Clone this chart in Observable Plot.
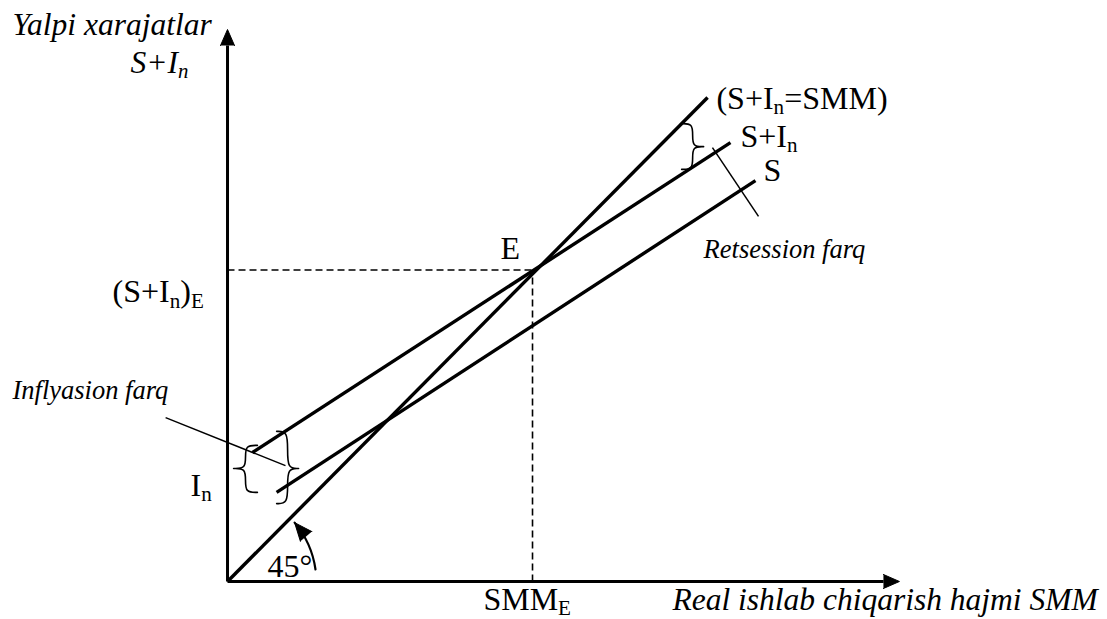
<!DOCTYPE html>
<html><head><meta charset="utf-8">
<script src="https://cdn.jsdelivr.net/npm/d3@7"></script>
<script src="https://cdn.jsdelivr.net/npm/@observablehq/plot@0.6"></script>
<style>
html,body{margin:0;padding:0;background:#fff;}
#chart svg{display:block;background:#fff;}
</style></head><body><div id="chart"></div>
<script>
// ---- Data (x: real output SMM, y: aggregate spending; equilibrium E at 100,100) ----
const lineNames = ["S+In=SMM", "S+In", "S"];
const lineX0 = [0, 8.2, 16.1];
const lineY0 = [0, 41.4, 28.6];
const lineX1 = [157.4, 164.9, 173.1];
const lineY1 = [155.4, 140.9, 128.7];

const equilibriumX = 100;
const equilibriumY = 100;

const axisLineEnd = [172.1, 215.1];   // y-axis top, x-axis right (before arrowheads)
const axisTip = [177.2, 220.3];       // arrow tips

// braces: arm (open side), spine, tip x; top, mid, bottom y
const braceArm = [9.8, 16.1, 148.9];
const braceSpine = [5.9, 19.7, 152.5];
const braceTip = [2.0, 23.3, 156.1];
const braceTop = [43.7, 48.2, 147.0];
const braceMid = [36.3, 36.3, 139.6];
const braceBottom = [28.6, 25.0, 132.3];

// callout leader lines
const calloutX1 = [-20.3, 159.0];
const calloutY1 = [52.6, 139.3];
const calloutX2 = [19.0, 174.1];
const calloutY2 = [37.2, 117.2];

// 45 degree arc
const arcStart = [28.85, 3.85];
const arcEnd = [22.0, 18.9];

// labels
const italicLabels = ["Yalpi xarajatlar", "S+I_n", "Real ishlab chiqarish hajmi SMM"];
const italicX = [-70.5, -31.8, 145.9];
const italicY = [175.3, 163.1, -9.0];

const regularLabels = ["(S+I_n=SMM)", "S+I_n", "S", "E", "(S+I_n)_E", "I_n", "45°", "SMM_E"];
const regularX = [160.3, 168.2, 175.7, 89.5, -37.7, -12.1, 13.1, 83.9];
const regularY = [151.8, 139.4, 128.7, 103.4, 89.6, 27.6, 1.3, -9.0];

const noteLabels = ["Retsession farq", "Inflyasion farq"];
const noteX = [156.1, -70.5];
const noteY = [103.7, 58.7];

// ---- build tables ----
const lines = lineNames.map((n, i) => ({n, x1: lineX0[i], y1: lineY0[i], x2: lineX1[i], y2: lineY1[i]}));
const dashed = [
  {x1: 0, y1: equilibriumY, x2: equilibriumX, y2: equilibriumY},
  {x1: equilibriumX, y1: 0, x2: equilibriumX, y2: equilibriumY}
];
const axes = [
  {x1: 0, y1: 0, x2: 0, y2: axisLineEnd[0]},
  {x1: 0, y1: 0, x2: axisLineEnd[1], y2: 0}
];
const axisHeads = [
  {x: 0, y: axisTip[0], rot: 0},
  {x: axisTip[1], y: 0, rot: 90}
];
const arcHead = [{x: arcEnd[0], y: arcEnd[1], rot: -40}];
const braces = [];
braceArm.forEach((a, i) => {
  const s = braceSpine[i], t = braceTip[i], T = braceTop[i], M = braceMid[i], B = braceBottom[i];
  const pts = [[a, T], [s, T], [s, (T + M) / 2], [s, M], [t, M], [t, M], [t, M], [s, M], [s, (M + B) / 2], [s, B], [a, B]];
  pts.forEach(([x, y]) => braces.push({b: i, x, y}));
});
const callouts = calloutX1.map((x, i) => ({x1: x, y1: calloutY1[i], x2: calloutX2[i], y2: calloutY2[i]}));
const toRows = (t, xs, ys) => t.map((s, i) => ({s, x: xs[i], y: ys[i]}));

const font = "'Liberation Serif', 'Times New Roman', serif";

const chart = Plot.plot({
  width: 1107,
  height: 619,
  margin: 0,
  x: {domain: [-74.43, 288.52], axis: null},
  y: {domain: [-12.2, 186.52], axis: null},
  style: {fontFamily: font, background: "#fff", color: "#000"},
  marks: [
    Plot.link(dashed, {x1: "x1", y1: "y1", x2: "x2", y2: "y2", stroke: "#000", strokeWidth: 1.6, strokeDasharray: "7,4"}),
    Plot.link(axes, {x1: "x1", y1: "y1", x2: "x2", y2: "y2", stroke: "#000", strokeWidth: 3}),
    Plot.link(lines, {x1: "x1", y1: "y1", x2: "x2", y2: "y2", stroke: "#000", strokeWidth: 3.4}),
    Plot.link(callouts, {x1: "x1", y1: "y1", x2: "x2", y2: "y2", stroke: "#000", strokeWidth: 1.5}),
    Plot.line(braces, {x: "x", y: "y", z: "b", curve: "basis", stroke: "#000", strokeWidth: 1.6}),
    Plot.arrow([{}], {x1: () => arcStart[0], y1: () => arcStart[1], x2: () => arcEnd[0], y2: () => arcEnd[1], bend: -16, headLength: 0, stroke: "#000", strokeWidth: 2.2}),
    Plot.vector(axisHeads, {x: "x", y: "y", rotate: "rot", length: 16, r: 7, shape: "spike", anchor: "end", fill: "#000", stroke: "#000", strokeWidth: 1}),
    Plot.vector(arcHead, {x: "x", y: "y", rotate: "rot", length: 18, r: 7.5, shape: "spike", anchor: "end", fill: "#000", stroke: "#000", strokeWidth: 1}),
    Plot.text(toRows(italicLabels, italicX, italicY), {x: "x", y: "y", text: "s", textAnchor: "start", lineAnchor: "bottom", fontSize: 31.5, fontStyle: "italic", fontFamily: font, fill: "#000"}),
    Plot.text(toRows(regularLabels, regularX, regularY), {x: "x", y: "y", text: "s", textAnchor: "start", lineAnchor: "bottom", fontSize: 32, fontFamily: font, fill: "#000"}),
    Plot.text(toRows(noteLabels, noteX, noteY), {x: "x", y: "y", text: "s", textAnchor: "start", lineAnchor: "bottom", fontSize: 26.5, fontStyle: "italic", fontFamily: font, fill: "#000"})
  ]
});
document.getElementById("chart").appendChild(chart);

// subscripts: "_x" -> lowered smaller tspan
chart.querySelectorAll("text").forEach(t => {
  const s = t.textContent;
  if (!s.includes("_")) return;
  const fs = parseFloat(getComputedStyle(t).fontSize) || 30;
  const parts = s.split(/_(\w)/);
  t.textContent = "";
  parts.forEach((p, i) => {
    if (!p) return;
    const ts = document.createElementNS("http://www.w3.org/2000/svg", "tspan");
    ts.textContent = p;
    if (i % 2 === 1) { ts.setAttribute("font-size", (fs * 0.66).toFixed(1)); ts.setAttribute("dy", (fs * 0.16).toFixed(1)); }
    else if (i > 0) { ts.setAttribute("dy", (-fs * 0.16).toFixed(1)); }
    t.appendChild(ts);
  });
});
</script></body></html>
